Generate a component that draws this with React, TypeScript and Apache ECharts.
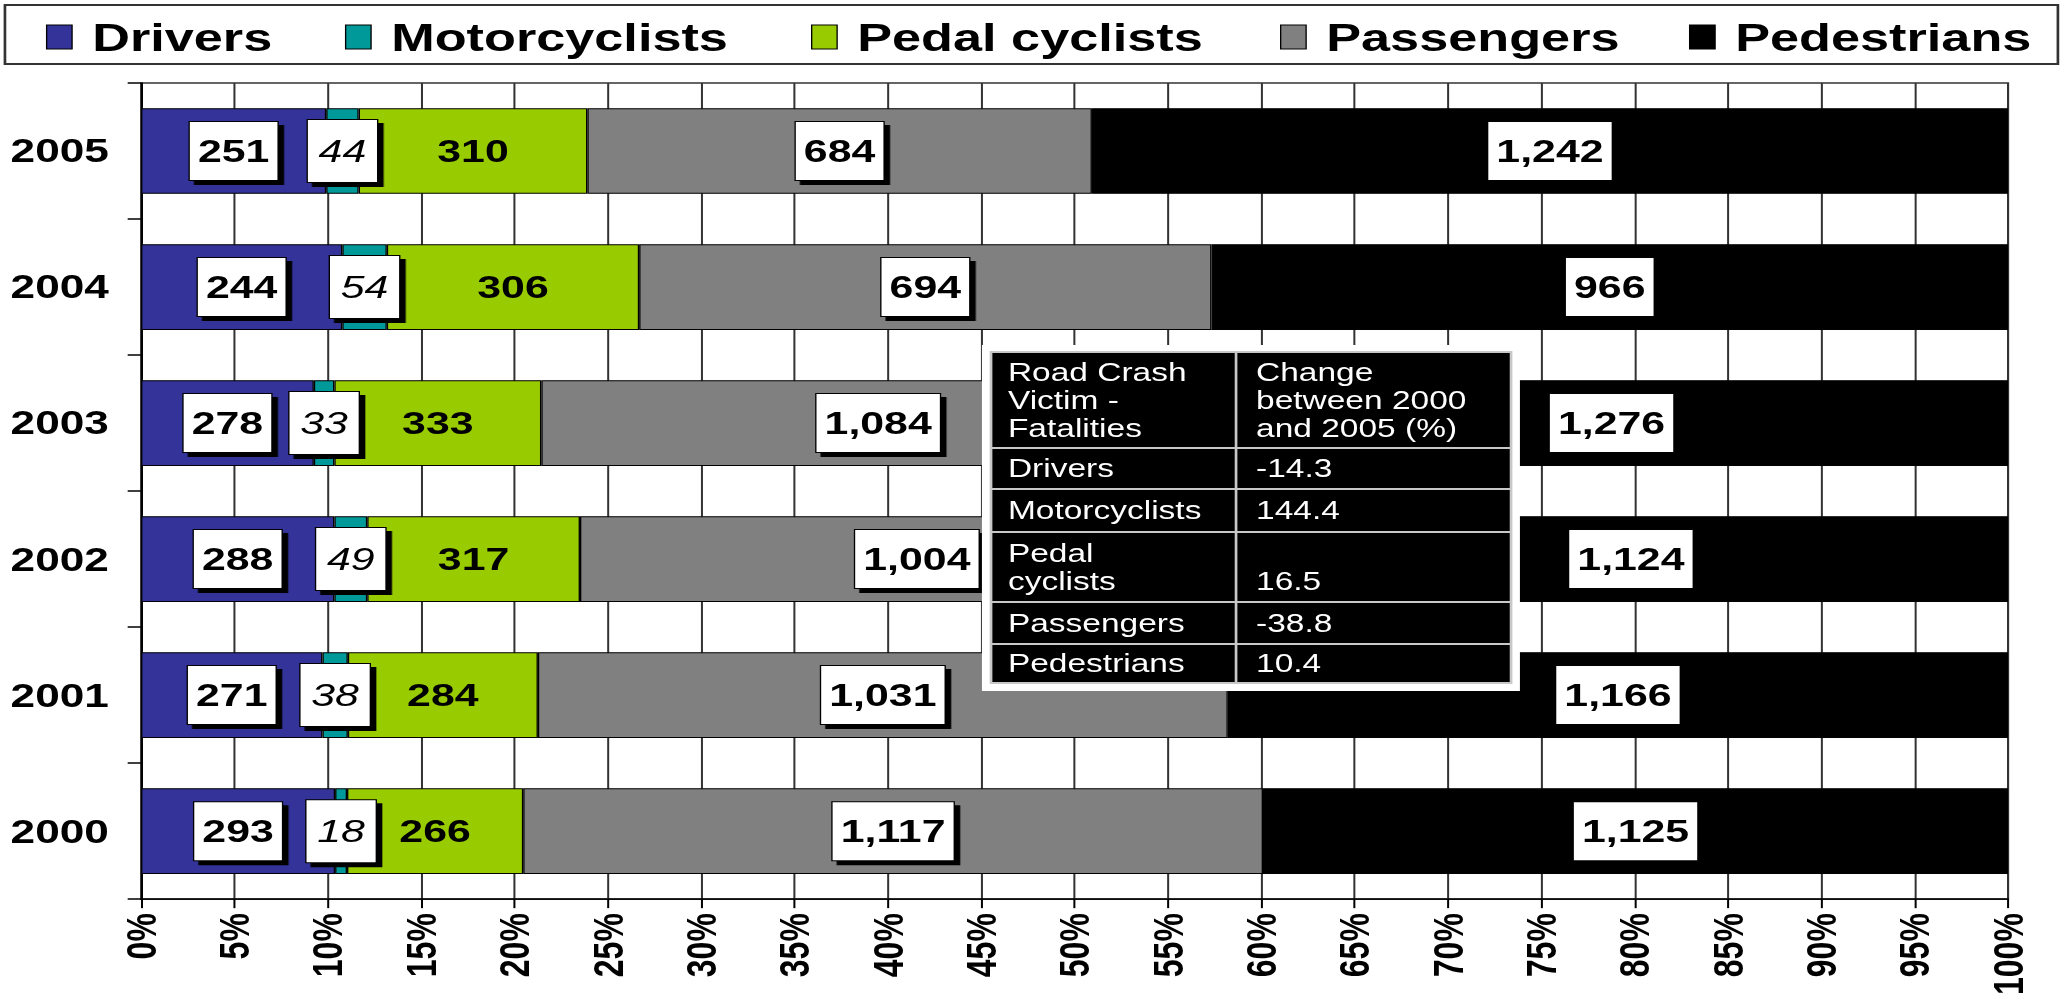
import React, { useEffect, useRef } from 'react';
import * as echarts from 'echarts';

// ---------- data ----------
const years = ['2000', '2001', '2002', '2003', '2004', '2005'];
const seriesNames = ['Drivers', 'Motorcyclists', 'Pedal cyclists', 'Passengers', 'Pedestrians'];
const drivers = [293, 271, 288, 278, 244, 251];
const motorcyclists = [18, 38, 49, 33, 54, 44];
const pedalCyclists = [266, 284, 317, 333, 306, 310];
const passengers = [1117, 1031, 1004, 1084, 694, 684];
const pedestrians = [1125, 1166, 1124, 1276, 966, 1242];
const colors = ['#333399', '#009999', '#99CC00', '#808080', '#000000'];

const tableHeader = ['Road Crash\nVictim -\nFatalities', 'Change\nbetween 2000\nand 2005 (%)'];
const tableVictims = ['Drivers', 'Motorcyclists', 'Pedal\ncyclists', 'Passengers', 'Pedestrians'];
const tableChanges = ['-14.3', '144.4', '16.5', '-38.8', '10.4'];

// ---------- layout (logical px; the chart is stretched horizontally by SX) ----------
const W = 1540;
const H = 998;
const SX = 2063 / W;
const F = '"Liberation Sans", Arial, Helvetica, sans-serif';
const legendLefts = [34.3, 257.5, 605.4, 955.5, 1260.8];
const rowEdges = [352, 448, 489, 532, 602, 644, 683];
const TZ = 100;

const counts = [drivers, motorcyclists, pedalCyclists, passengers, pedestrians];
const totals = years.map((_, i) => counts.reduce((s, arr) => s + arr[i], 0));

function fmt(n: number) {
  return n.toLocaleString('en-US');
}

function buildOption() {
  const boxLabel = {
    show: true,
    position: 'inside',
    color: '#000',
    fontFamily: F,
    fontSize: 32,
    fontWeight: 'bold',
    lineHeight: 32,
    backgroundColor: '#fff',
    borderColor: '#000',
    borderWidth: 1,
    padding: [13, 6],
    shadowColor: '#000',
    shadowBlur: 0,
    shadowOffsetX: 4,
    shadowOffsetY: 4,
  };
  const labelFor = (k: number) => {
    const formatter = (p: any) => fmt(counts[k][p.dataIndex]);
    if (k === 1) {
      return { ...boxLabel, fontStyle: 'italic', fontWeight: 'normal', padding: [15, 8], formatter };
    }
    if (k === 2) {
      return {
        show: true,
        position: 'inside',
        color: '#000',
        fontFamily: F,
        fontSize: 32,
        fontWeight: 'bold',
        formatter,
      };
    }
    return { ...boxLabel, formatter };
  };

  const series = seriesNames.map((name, k) => ({
    name,
    type: 'bar',
    stack: 'total',
    barWidth: '63%',
    itemStyle: { color: colors[k], borderColor: '#000', borderWidth: 1 },
    label: labelFor(k),
    data: counts[k].map((v, i) => (v / totals[i]) * 100),
  }));

  const legend = seriesNames.map((name, k) => ({
    data: [name],
    left: legendLefts[k],
    top: 17,
    padding: 0,
    icon: 'rect',
    itemWidth: 19,
    itemHeight: 24,
    selectedMode: false,
    itemStyle: { borderColor: '#000', borderWidth: 1 },
    textStyle: {
      fontFamily: F,
      fontSize: 39,
      fontWeight: 'bold',
      color: '#000',
      lineHeight: 40,
      padding: [0, 0, 0, 10],
    },
  }));

  // table graphic
  const tX = 739.8;
  const tR = 1128;
  const colX = 922.7;
  const textL = 752.4;
  const textR = 937.6;
  const cellFont = { fontFamily: F, fontSize: 25, fill: '#fff', lineHeight: 28 };
  const table: any[] = [
    {
      type: 'rect',
      z: TZ,
      shape: { x: 733, y: 345, width: 401.6, height: 346 },
      style: { fill: '#fff' },
    },
    {
      type: 'rect',
      z: TZ + 1,
      shape: { x: tX, y: rowEdges[0], width: tR - tX, height: rowEdges[6] - rowEdges[0] },
      style: { fill: '#000', stroke: '#c8c8c8', lineWidth: 2 },
    },
    {
      type: 'line',
      z: TZ + 2,
      shape: { x1: colX, y1: rowEdges[0], x2: colX, y2: rowEdges[6] },
      style: { stroke: '#c8c8c8', lineWidth: 2 },
    },
  ];
  for (let r = 1; r < rowEdges.length - 1; r++) {
    table.push({
      type: 'line',
      z: TZ + 2,
      shape: { x1: tX, y1: rowEdges[r], x2: tR, y2: rowEdges[r] },
      style: { stroke: '#c8c8c8', lineWidth: 2 },
    });
  }
  const headerMid = (rowEdges[0] + rowEdges[1]) / 2;
  const cellText = (text: string, x: number, y: number) => ({
    type: 'text',
    z: TZ + 3,
    style: { ...cellFont, text, x, y, textAlign: 'left', verticalAlign: 'middle', textVerticalAlign: 'middle' },
  });
  table.push(cellText(tableHeader[0], textL, headerMid), cellText(tableHeader[1], textR, headerMid));
  tableVictims.forEach((victim, i) => {
    const top = rowEdges[i + 1];
    const bottom = rowEdges[i + 2];
    const mid = (top + bottom) / 2;
    const multi = victim.indexOf('\n') >= 0;
    table.push(cellText(victim, textL, mid), cellText(tableChanges[i], textR, multi ? bottom - 20.5 : mid));
  });

  return {
    animation: false,
    backgroundColor: '#fff',
    color: colors,
    legend,
    grid: {
      left: 105.3,
      right: 41,
      top: 83,
      bottom: 95,
      show: true,
      backgroundColor: '#fff',
      borderColor: '#333',
      borderWidth: 1.5,
      containLabel: false,
    },
    xAxis: {
      type: 'value',
      min: 0,
      max: 100,
      interval: 5,
      axisLine: { show: true, lineStyle: { color: '#000', width: 1.5 } },
      axisTick: { show: true, length: 9, lineStyle: { color: '#000', width: 1.5 } },
      splitLine: { show: true, lineStyle: { color: '#333', width: 1.5 } },
      axisLabel: {
        rotate: 90,
        margin: 14,
        formatter: '{value}%',
        fontFamily: F,
        fontSize: 32,
        fontWeight: 'bold',
        color: '#000',
      },
    },
    yAxis: {
      type: 'category',
      data: years,
      axisLine: { show: true, lineStyle: { color: '#000', width: 1.5 } },
      axisTick: { show: true, length: 10, lineStyle: { color: '#000', width: 1.5 } },
      splitLine: { show: false },
      axisLabel: {
        margin: 24,
        fontFamily: F,
        fontSize: 33,
        fontWeight: 'bold',
        color: '#000',
      },
    },
    graphic: [
      {
        type: 'rect',
        z: -1,
        shape: { x: 3.7, y: 5, width: 1532.5, height: 59 },
        style: { fill: '#fff', stroke: '#333', lineWidth: 2 },
      },
      ...table,
    ],
    series,
  };
}

export default function App() {
  const ref = useRef<HTMLDivElement>(null);
  useEffect(() => {
    if (!ref.current) return;
    const chart = echarts.init(ref.current, null, { renderer: 'svg' });
    chart.setOption(buildOption() as any);
    return () => chart.dispose();
  }, []);
  return (
    <div
      ref={ref}
      style={{
        position: 'fixed',
        left: 0,
        top: 0,
        width: W,
        height: H,
        transform: `scale(${SX}, 1)`,
        transformOrigin: '0 0',
        background: '#fff',
      }}
    />
  );
}
